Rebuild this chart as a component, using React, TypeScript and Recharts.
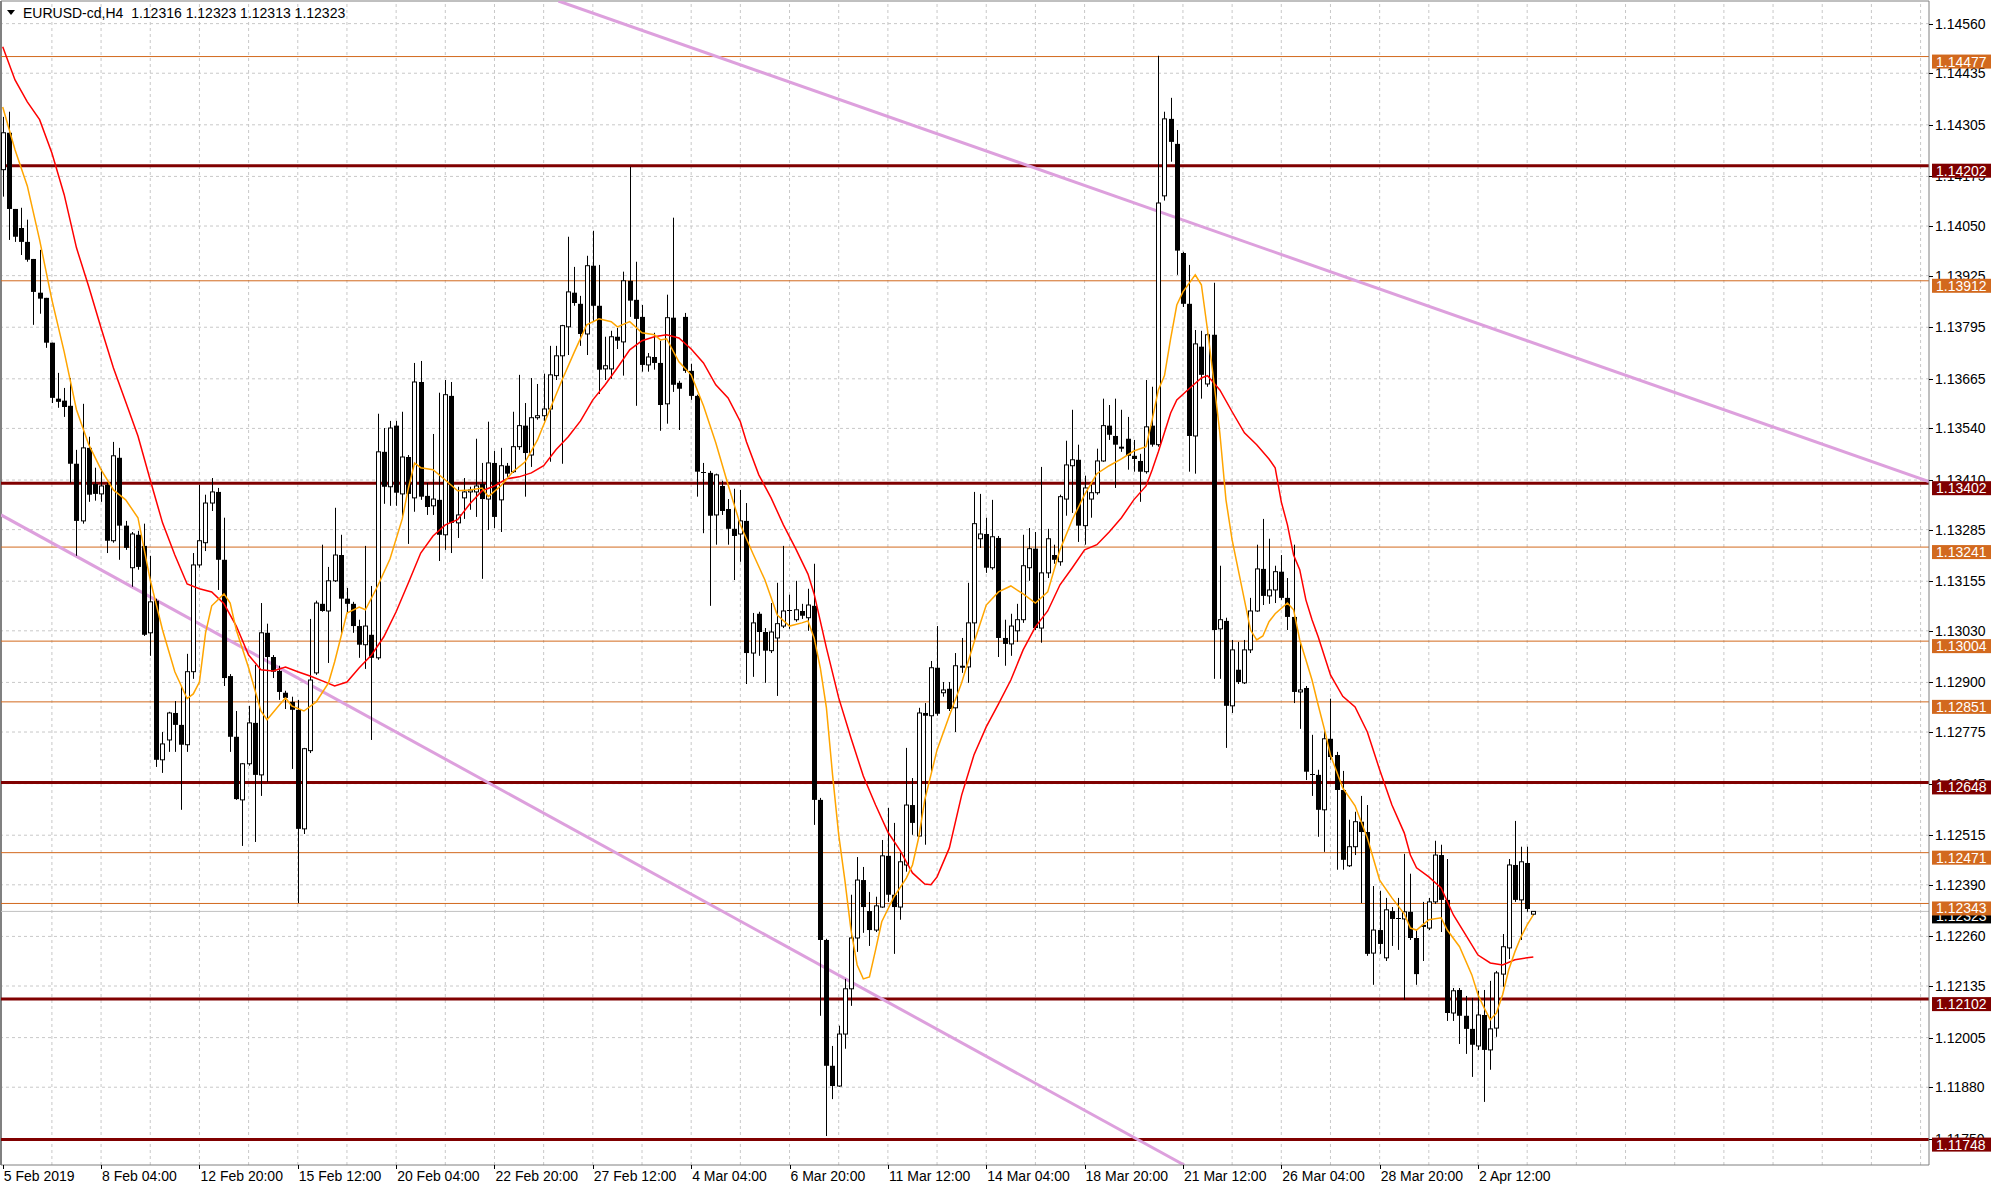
import { ComposedChart, Bar, Line, XAxis, YAxis, ReferenceLine } from "recharts";

const WIDTH = 2000;
const HEIGHT = 1191;
const AXIS_WIDTH = 71;
const AXIS_HEIGHT = 25;
const PLOT_RIGHT = WIDTH - AXIS_WIDTH;
const PLOT_BOTTOM = HEIGHT - 1 - AXIS_HEIGHT;
const FONT = "'Liberation Sans', Arial, sans-serif";

const title = "EURUSD-cd,H4  1.12316 1.12323 1.12313 1.12323";

// H4 bars, 5 Feb 2019 12:00 .. 3 Apr 2019
const opens = [
  1.14192, 1.14285, 1.14093, 1.14045, 1.1401, 1.13967, 1.13882, 1.13869, 1.13756, 1.13615,
  1.1361, 1.13597, 1.13451, 1.13307, 1.13491, 1.134, 1.13375, 1.13398, 1.13257, 1.13466,
  1.13295, 1.13189, 1.13272, 1.13244, 1.13025, 1.13106, 1.12705, 1.12755, 1.12823, 1.12793,
  1.12743, 1.12927, 1.13196, 1.13252, 1.13352, 1.1338, 1.13209, 1.12916, 1.12763, 1.12604,
  1.12695, 1.12798, 1.12667, 1.13025, 1.12964, 1.12929, 1.12874, 1.12851, 1.12831, 1.12531,
  1.12728, 1.12924, 1.13098, 1.1308, 1.13156, 1.13221, 1.13111, 1.13098, 1.13042, 1.12995,
  1.1302, 1.12962, 1.13481, 1.13393, 1.13547, 1.13375, 1.13468, 1.13365, 1.13657, 1.1337,
  1.13345, 1.1336, 1.13272, 1.13622, 1.13302, 1.13365, 1.1338, 1.1338, 1.134, 1.13362,
  1.13453, 1.1336, 1.13446, 1.13431, 1.13494, 1.13547, 1.13473, 1.13567, 1.13572, 1.13589,
  1.13673, 1.13723, 1.13796, 1.13882, 1.13854, 1.13778, 1.1395, 1.13849, 1.1369, 1.1369,
  1.13771, 1.13758, 1.13912, 1.13864, 1.13821, 1.137, 1.1372, 1.13705, 1.13602, 1.13819,
  1.13655, 1.13821, 1.13685, 1.13622, 1.13431, 1.13428, 1.13322, 1.13395, 1.13337, 1.13287,
  1.13274, 1.13307, 1.12974, 1.13073, 1.13027, 1.1298, 1.13012, 1.13042, 1.1308, 1.13058,
  1.1308, 1.13063, 1.13093, 1.12604, 1.12251, 1.11934, 1.11883, 1.12014, 1.12128, 1.12256,
  1.12402, 1.12324, 1.12276, 1.12334, 1.12463, 1.12365, 1.12334, 1.1244, 1.12591, 1.12513,
  1.12823, 1.12816, 1.12937, 1.12874, 1.12884, 1.12836, 1.12942, 1.12939, 1.1305, 1.13262,
  1.13274, 1.13189, 1.13264, 1.13012, 1.12997, 1.1303, 1.13058, 1.13189, 1.13237, 1.13037,
  1.13176, 1.13221, 1.13204, 1.13362, 1.13446, 1.13461, 1.13295, 1.13362, 1.13378, 1.13458,
  1.13547, 1.13521, 1.13494, 1.13514, 1.13471, 1.13458, 1.13431, 1.13547, 1.13499, 1.14126,
  1.1432, 1.14257, 1.13982, 1.13854, 1.13521, 1.13746, 1.13652, 1.13776, 1.13035, 1.13055,
  1.12841, 1.12932, 1.12899, 1.12982, 1.1308, 1.13186, 1.13118, 1.13133, 1.13179, 1.13113,
  1.13065, 1.12876, 1.12886, 1.12667, 1.12667, 1.12579, 1.12758, 1.12717, 1.12629, 1.12438,
  1.12486, 1.12549, 1.12523, 1.12218, 1.12276, 1.12206, 1.12324, 1.12307, 1.12304, 1.12322,
  1.12256, 1.12289, 1.12281, 1.12347, 1.12465, 1.12352, 1.12067, 1.12125, 1.1206, 1.12027,
  1.11984, 1.12062, 1.11974, 1.12029, 1.12165, 1.12231, 1.1244, 1.12352, 1.12445, 1.12316,
];

const highs = [
  1.14325, 1.14338, 1.14093, 1.14096, 1.14066, 1.13967, 1.1399, 1.13869, 1.13756, 1.1368,
  1.13642, 1.13667, 1.13486, 1.13602, 1.13519, 1.13441, 1.13438, 1.13403, 1.13506, 1.13491,
  1.13307, 1.13279, 1.13282, 1.133, 1.13219, 1.13111, 1.12775, 1.12826, 1.12853, 1.12891,
  1.12972, 1.13226, 1.13398, 1.13373, 1.13415, 1.1339, 1.13315, 1.12921, 1.12828, 1.12697,
  1.12841, 1.12944, 1.131, 1.13048, 1.12969, 1.12942, 1.12879, 1.12864, 1.12856, 1.12735,
  1.1306, 1.13106, 1.13247, 1.13191, 1.1334, 1.13272, 1.13138, 1.13103, 1.13058, 1.13244,
  1.13143, 1.13577, 1.13541, 1.13559, 1.13559, 1.13582, 1.13473, 1.13705, 1.1371, 1.13403,
  1.13526, 1.1363, 1.13662, 1.13657, 1.13393, 1.13415, 1.13393, 1.13514, 1.13453, 1.13557,
  1.13483, 1.13491, 1.13453, 1.13582, 1.13675, 1.13604, 1.13667, 1.13652, 1.13678, 1.13748,
  1.13748, 1.13801, 1.14023, 1.13947, 1.13874, 1.13975, 1.14038, 1.13952, 1.13771, 1.13786,
  1.13793, 1.13935, 1.14199, 1.1396, 1.13851, 1.1373, 1.13781, 1.13761, 1.13877, 1.14071,
  1.1366, 1.13831, 1.13703, 1.13625, 1.13453, 1.13433, 1.13426, 1.13408, 1.13362, 1.13388,
  1.13385, 1.13352, 1.13075, 1.13078, 1.13037, 1.131, 1.13151, 1.13244, 1.13121, 1.13156,
  1.13098, 1.13136, 1.13199, 1.12609, 1.12254, 1.11984, 1.12035, 1.12153, 1.12365, 1.1246,
  1.12435, 1.12372, 1.1236, 1.12503, 1.12584, 1.12546, 1.1247, 1.12735, 1.12659, 1.12836,
  1.12848, 1.12954, 1.13042, 1.12901, 1.12901, 1.12974, 1.13012, 1.13151, 1.1338, 1.13375,
  1.13315, 1.1336, 1.13269, 1.13058, 1.13073, 1.13098, 1.13272, 1.13289, 1.13279, 1.13443,
  1.13287, 1.13247, 1.13373, 1.13509, 1.13587, 1.13499, 1.13421, 1.13398, 1.13489, 1.13615,
  1.13599, 1.13615, 1.13587, 1.13569, 1.13511, 1.13476, 1.13662, 1.13645, 1.14479, 1.14338,
  1.14373, 1.14292, 1.13985, 1.13952, 1.13788, 1.13786, 1.13781, 1.13907, 1.13194, 1.13063,
  1.13007, 1.13002, 1.13007, 1.13113, 1.13247, 1.13312, 1.13262, 1.13194, 1.13221, 1.13163,
  1.13247, 1.13002, 1.12891, 1.12768, 1.1268, 1.12783, 1.12859, 1.12725, 1.12677, 1.12554,
  1.12574, 1.12614, 1.12591, 1.12387, 1.12375, 1.12357, 1.12334, 1.12357, 1.12468, 1.12418,
  1.12276, 1.12347, 1.12357, 1.12501, 1.12491, 1.12455, 1.1213, 1.1213, 1.1211, 1.12105,
  1.12123, 1.12125, 1.12148, 1.12173, 1.12266, 1.12455, 1.12551, 1.12486, 1.12486, 1.12323,
];

const lows = [
  1.14124, 1.14015, 1.1401, 1.13977, 1.1396, 1.13801, 1.13829, 1.13743, 1.13604, 1.13592,
  1.13569, 1.13403, 1.13219, 1.133, 1.13355, 1.13358, 1.13355, 1.13226, 1.13252, 1.13209,
  1.13234, 1.13141, 1.13184, 1.13017, 1.12967, 1.12687, 1.12672, 1.12725, 1.12725, 1.12579,
  1.12725, 1.12909, 1.13189, 1.13231, 1.13332, 1.13133, 1.12891, 1.12725, 1.12604, 1.12488,
  1.1269, 1.12498, 1.12614, 1.12649, 1.12911, 1.12856, 1.12833, 1.12682, 1.12344, 1.12518,
  1.12722, 1.12919, 1.13078, 1.12949, 1.13153, 1.13025, 1.13075, 1.13025, 1.12962, 1.12934,
  1.12755, 1.12957, 1.1335, 1.13345, 1.13345, 1.13315, 1.13249, 1.1333, 1.1336, 1.13322,
  1.13322, 1.13206, 1.13234, 1.13226, 1.13264, 1.13312, 1.13335, 1.13317, 1.13161, 1.13284,
  1.13289, 1.13279, 1.13418, 1.13428, 1.13486, 1.13368, 1.13443, 1.13562, 1.13559, 1.13456,
  1.13662, 1.13451, 1.13725, 1.13849, 1.13748, 1.13725, 1.13811, 1.13627, 1.13662, 1.13665,
  1.1374, 1.13673, 1.13821, 1.13597, 1.13683, 1.13683, 1.13688, 1.13534, 1.13552, 1.13632,
  1.13536, 1.1368, 1.13612, 1.13368, 1.13276, 1.13093, 1.13247, 1.13322, 1.13247, 1.13158,
  1.13204, 1.12896, 1.12914, 1.12967, 1.12899, 1.12974, 1.12866, 1.13037, 1.13035, 1.13053,
  1.1306, 1.1303, 1.12541, 1.1206, 1.11757, 1.1185, 1.11881, 1.11977, 1.12085, 1.12221,
  1.12269, 1.12236, 1.12271, 1.12332, 1.12347, 1.12216, 1.12302, 1.12423, 1.12516, 1.12511,
  1.12491, 1.12672, 1.12816, 1.12864, 1.12828, 1.12775, 1.12924, 1.12899, 1.13005, 1.13239,
  1.13176, 1.13184, 1.12964, 1.12942, 1.12967, 1.13002, 1.1305, 1.13156, 1.13032, 1.13,
  1.13163, 1.13199, 1.13194, 1.1332, 1.13327, 1.13254, 1.13247, 1.13315, 1.13373, 1.13456,
  1.13511, 1.1339, 1.13481, 1.13436, 1.13431, 1.13355, 1.13426, 1.13494, 1.13494, 1.14114,
  1.14212, 1.13927, 1.13846, 1.13431, 1.13426, 1.13615, 1.13645, 1.12909, 1.12909, 1.12735,
  1.12823, 1.12896, 1.12896, 1.12974, 1.13078, 1.13095, 1.13098, 1.131, 1.13108, 1.13032,
  1.12848, 1.12783, 1.12654, 1.12614, 1.12511, 1.12473, 1.12705, 1.12428, 1.12428, 1.12435,
  1.12465, 1.12344, 1.12211, 1.12138, 1.12216, 1.12198, 1.12236, 1.12226, 1.121, 1.12251,
  1.12138, 1.12198, 1.12276, 1.12342, 1.12271, 1.12047, 1.12047, 1.11989, 1.11964, 1.11906,
  1.11974, 1.11843, 1.11924, 1.12007, 1.12133, 1.12203, 1.12347, 1.12251, 1.12322, 1.12313,
];

const closes = [
  1.14285, 1.14093, 1.14023, 1.1401, 1.13965, 1.13884, 1.13867, 1.13756, 1.13617, 1.13607,
  1.13594, 1.13451, 1.13307, 1.13491, 1.13373, 1.13375, 1.13395, 1.13257, 1.13471, 1.13295,
  1.13239, 1.13274, 1.13191, 1.1302, 1.13103, 1.12705, 1.12745, 1.12823, 1.12793, 1.12743,
  1.12927, 1.13196, 1.13257, 1.13352, 1.1338, 1.13209, 1.12911, 1.12763, 1.12606, 1.12695,
  1.12798, 1.12667, 1.13025, 1.12964, 1.12927, 1.12876, 1.12861, 1.12831, 1.12531, 1.12733,
  1.12906, 1.131, 1.1308, 1.13156, 1.13221, 1.13111, 1.13098, 1.13042, 1.12995, 1.13042,
  1.12962, 1.13481, 1.13393, 1.13541, 1.13378, 1.13468, 1.13375, 1.13657, 1.13368, 1.13342,
  1.13362, 1.13272, 1.13625, 1.13302, 1.13322, 1.1338, 1.13385, 1.13395, 1.13362, 1.13453,
  1.13317, 1.13446, 1.13426, 1.13494, 1.13547, 1.13478, 1.13567, 1.13572, 1.13589, 1.13675,
  1.13723, 1.13799, 1.13884, 1.13856, 1.13778, 1.1395, 1.13849, 1.13688, 1.13698, 1.13771,
  1.13761, 1.13912, 1.13862, 1.13816, 1.137, 1.1372, 1.13705, 1.13599, 1.13819, 1.1365,
  1.1364, 1.13685, 1.13622, 1.13431, 1.13428, 1.1332, 1.13423, 1.13332, 1.13287, 1.13269,
  1.13307, 1.12974, 1.1305, 1.13027, 1.1298, 1.13027, 1.13048, 1.1308, 1.13083, 1.13083,
  1.13068, 1.13095, 1.12604, 1.12251, 1.11934, 1.11883, 1.12014, 1.12128, 1.12256, 1.12402,
  1.12334, 1.12276, 1.12337, 1.12463, 1.12365, 1.12334, 1.12448, 1.12591, 1.12546, 1.12823,
  1.12816, 1.12937, 1.12821, 1.12881, 1.12833, 1.12942, 1.12937, 1.1305, 1.133, 1.13274,
  1.13189, 1.13267, 1.13012, 1.12997, 1.13042, 1.13058, 1.13194, 1.13237, 1.13037, 1.13176,
  1.13262, 1.13209, 1.13368, 1.13448, 1.13461, 1.13295, 1.1339, 1.13378, 1.13458, 1.13547,
  1.13524, 1.13499, 1.13489, 1.13471, 1.13463, 1.13431, 1.13544, 1.13499, 1.14108, 1.1432,
  1.14262, 1.13988, 1.13854, 1.13521, 1.13753, 1.13675, 1.13776, 1.13032, 1.13058, 1.12841,
  1.12982, 1.12901, 1.12982, 1.1308, 1.13186, 1.13118, 1.13133, 1.13179, 1.13113, 1.13065,
  1.12876, 1.12881, 1.12675, 1.1267, 1.12579, 1.12758, 1.12712, 1.12629, 1.12453, 1.12486,
  1.12549, 1.12523, 1.12216, 1.12276, 1.12241, 1.12327, 1.12304, 1.12304, 1.12322, 1.12256,
  1.12165, 1.12284, 1.12347, 1.12465, 1.12352, 1.12067, 1.12123, 1.1206, 1.12027, 1.11987,
  1.12062, 1.11974, 1.12027, 1.12168, 1.12234, 1.1244, 1.12352, 1.12448, 1.12329, 1.12323,
];

// moving averages: [bar, price]
const fastMa: [number, number][] = [
  [0, 1.1435], [2, 1.14242], [4, 1.14151], [6, 1.14015], [8, 1.13864], [10, 1.13733], [12, 1.13587],
  [14, 1.13499], [16, 1.13436], [18, 1.13385], [20, 1.1336], [22, 1.13315], [24, 1.13158], [26, 1.13032],
  [28, 1.12927], [30, 1.12859], [31, 1.12871], [32, 1.12901], [33, 1.13025], [34, 1.13093], [36, 1.13123],
  [37, 1.131], [38, 1.13032], [40, 1.12937], [42, 1.12828], [43, 1.12806], [45, 1.12843], [46, 1.12861],
  [47, 1.12841], [49, 1.12828], [51, 1.12851], [53, 1.12899], [54, 1.12952], [56, 1.13075], [58, 1.1309],
  [59, 1.13083], [61, 1.13143], [63, 1.13211], [65, 1.13312], [66, 1.1339], [67, 1.13453], [68, 1.13441],
  [70, 1.13436], [72, 1.1341], [74, 1.13383], [76, 1.13385], [78, 1.1339], [79, 1.13368], [81, 1.13395],
  [83, 1.13431], [85, 1.13456], [87, 1.13511], [89, 1.13587], [91, 1.13662], [93, 1.13733], [95, 1.13801],
  [97, 1.13816], [99, 1.13809], [100, 1.13796], [102, 1.13809], [104, 1.13781], [106, 1.13776], [107, 1.13763],
  [108, 1.13766], [110, 1.13708], [112, 1.13675], [114, 1.13597], [116, 1.13504], [118, 1.13398], [120, 1.13297],
  [122, 1.13226], [124, 1.13158], [126, 1.1307], [128, 1.13042], [130, 1.1305], [131, 1.13055], [132, 1.13012],
  [133, 1.12937], [134, 1.12836], [135, 1.12667], [136, 1.12516], [137, 1.12402], [138, 1.12276], [139, 1.12188],
  [140, 1.12153], [141, 1.12158], [142, 1.12226], [143, 1.12297], [145, 1.1236], [147, 1.12407], [148, 1.1244],
  [149, 1.12508], [150, 1.12604], [152, 1.1273], [154, 1.12816], [156, 1.12899], [158, 1.13], [160, 1.13095],
  [162, 1.13128], [164, 1.13143], [166, 1.13123], [168, 1.131], [170, 1.13128], [172, 1.13234], [174, 1.1331],
  [176, 1.13373], [178, 1.13426], [180, 1.13446], [182, 1.13463], [184, 1.13483], [186, 1.13494], [187, 1.13562],
  [188, 1.13637], [189, 1.13673], [190, 1.13766], [191, 1.13851], [192, 1.13884], [194, 1.13927], [195, 1.13902],
  [196, 1.13788], [197, 1.13662], [198, 1.13529], [199, 1.1336], [200, 1.13259], [202, 1.13108], [203, 1.13032],
  [204, 1.13007], [205, 1.13017], [206, 1.13053], [207, 1.13073], [209, 1.131], [210, 1.13083], [211, 1.13007],
  [212, 1.12957], [213, 1.12906], [214, 1.12843], [215, 1.12783], [216, 1.12717], [218, 1.12634], [220, 1.12589],
  [222, 1.12508], [224, 1.12402], [226, 1.12357], [228, 1.12317], [229, 1.12281], [230, 1.12276], [232, 1.12302],
  [234, 1.12307], [235, 1.12276], [237, 1.12234], [239, 1.12163], [240, 1.12113], [241, 1.1208], [242, 1.1205],
  [243, 1.12067], [244, 1.12113], [245, 1.12176], [246, 1.12221], [247, 1.12259], [248, 1.12289], [249, 1.12314],
];

const slowMa: [number, number][] = [
  [0, 1.14502], [2, 1.14418], [4, 1.14363], [6, 1.14318], [8, 1.14234], [10, 1.14129], [12, 1.13995],
  [14, 1.13897], [16, 1.13793], [18, 1.13693], [20, 1.13607], [22, 1.13521], [24, 1.1341], [26, 1.13302],
  [28, 1.13221], [30, 1.13148], [32, 1.13136], [34, 1.13128], [36, 1.13098], [38, 1.13042], [40, 1.12969],
  [42, 1.12932], [44, 1.12929], [46, 1.12939], [48, 1.12927], [50, 1.12916], [52, 1.12904], [54, 1.12891],
  [56, 1.12901], [58, 1.12937], [60, 1.12969], [62, 1.13015], [64, 1.13078], [66, 1.13151], [68, 1.13226],
  [70, 1.13269], [72, 1.13297], [74, 1.1331], [76, 1.1335], [78, 1.13383], [80, 1.13395], [82, 1.13413],
  [84, 1.13418], [86, 1.13428], [88, 1.13446], [90, 1.13486], [92, 1.13519], [94, 1.13559], [96, 1.13612],
  [98, 1.1365], [100, 1.13693], [102, 1.13738], [104, 1.13761], [106, 1.13771], [108, 1.13776], [110, 1.13768],
  [112, 1.1374], [114, 1.13705], [116, 1.1365], [118, 1.13617], [120, 1.13557], [121, 1.13506], [123, 1.13423],
  [125, 1.13365], [127, 1.13297], [129, 1.13237], [131, 1.13173], [132, 1.13123], [134, 1.12987], [136, 1.12861],
  [138, 1.1276], [140, 1.12664], [142, 1.12591], [144, 1.12523], [146, 1.12476], [148, 1.1242], [150, 1.12392],
  [151, 1.1239], [152, 1.1241], [154, 1.12483], [156, 1.12616], [158, 1.12717], [160, 1.12788], [162, 1.12846],
  [164, 1.12906], [166, 1.12982], [168, 1.1304], [170, 1.1308], [172, 1.13146], [174, 1.13189], [176, 1.13234],
  [178, 1.13247], [180, 1.13279], [182, 1.13315], [184, 1.1336], [186, 1.13395], [187, 1.13436], [188, 1.13481],
  [190, 1.13579], [191, 1.13612], [193, 1.1364], [195, 1.13667], [196, 1.13673], [197, 1.13655], [198, 1.13637],
  [200, 1.13582], [202, 1.13529], [204, 1.13499], [206, 1.13463], [207, 1.13441], [208, 1.13355], [209, 1.13297],
  [210, 1.13221], [211, 1.13184], [212, 1.13108], [213, 1.13058], [214, 1.13015], [216, 1.12919], [218, 1.12865],
  [220, 1.12838], [222, 1.12775], [224, 1.1268], [226, 1.12591], [228, 1.12521], [229, 1.12465], [230, 1.12433],
  [232, 1.1241], [234, 1.12382], [236, 1.12314], [238, 1.12264], [240, 1.12213], [242, 1.12193], [244, 1.12188],
  [246, 1.12201], [248, 1.12206], [249, 1.12208],
];

const xTickBars = [0, 16, 32, 48, 64, 80, 96, 112, 128, 144, 160, 176, 192, 208, 224, 240];
const xTickLabels = [
  "5 Feb 2019", "8 Feb 04:00", "12 Feb 20:00", "15 Feb 12:00", "20 Feb 04:00", "22 Feb 20:00",
  "27 Feb 12:00", "4 Mar 04:00", "6 Mar 20:00", "11 Mar 12:00", "14 Mar 04:00", "18 Mar 20:00",
  "21 Mar 12:00", "26 Mar 04:00", "28 Mar 20:00", "2 Apr 12:00",
];
const gridBars = [
  8, 16, 24, 32, 40, 48, 56, 64, 72, 80, 88, 96, 104, 112, 120, 128, 136, 144, 152, 160,
  168, 176, 184, 192, 200, 208, 216, 224, 232, 240, 248, 256, 264, 272, 280, 288, 296, 304, 312,
];
const priceTicks = [
  1.1456, 1.14435, 1.14305, 1.14175, 1.1405, 1.13925, 1.13795, 1.13665, 1.1354, 1.1341, 1.13285, 1.13155,
  1.1303, 1.129, 1.12775, 1.12645, 1.12515, 1.1239, 1.1226, 1.12135, 1.12005, 1.1188, 1.1175,
];

const minorLevels = [1.14477, 1.13912, 1.13241, 1.13004, 1.12851, 1.12471, 1.12343];
const majorLevels = [1.14202, 1.13402, 1.12648, 1.12102, 1.11748];
const currentPrice = 1.12323;

const trendLines = [
  { from: [90.4, 1.14617], to: [313.37, 1.13406] },
  { from: [-0.28, 1.13322], to: [192.2, 1.11684] },
];

const X_DOMAIN: [number, number] = [-0.28, 313.37];
const Y_DOMAIN: [number, number] = [1.11684, 1.14617];

const MINOR_COLOR = "#D2691E";
const MAJOR_COLOR = "#800000";

const priceLabels = [
  { price: currentPrice, bg: "#000000" },
  ...minorLevels.map((price) => ({ price, bg: MINOR_COLOR })),
  ...majorLevels.map((price) => ({ price, bg: MAJOR_COLOR })),
];
const yTicks = [...priceTicks, ...priceLabels.map((d) => d.price)];

const fastByBar = new Map(fastMa);
const slowByBar = new Map(slowMa);

const rows = opens.map((o, i) => ({
  i,
  o,
  h: highs[i],
  l: lows[i],
  c: closes[i],
  range: [lows[i], highs[i]],
  fast: fastByBar.get(i) ?? null,
  slow: slowByBar.get(i) ?? null,
}));

function Candle(props: any) {
  const { x, y, width, height, payload } = props;
  if (!payload) return null;
  const { o, h, l, c } = payload;
  const top = Math.min(y, y + height);
  const bottom = Math.max(y, y + height);
  const k = h - l > 0 ? (bottom - top) / (h - l) : 0;
  const yOpen = top + (h - o) * k;
  const yClose = top + (h - c) * k;
  const bodyTop = Math.min(yOpen, yClose);
  const bodyBottom = Math.max(yOpen, yClose);
  const cx = Math.floor(x + width / 2);
  const bull = c >= o;

  let body;
  if (bodyBottom - bodyTop < 1.2) {
    const yy = Math.round(bodyTop) + 0.5;
    body = <line x1={cx - 2} x2={cx + 3} y1={yy} y2={yy} stroke="#000" strokeWidth={1} />;
  } else if (bull) {
    body = (
      <rect x={cx - 1.5} y={bodyTop} width={4} height={bodyBottom - bodyTop} fill="#fff" stroke="#000" strokeWidth={1} />
    );
  } else {
    body = <rect x={cx - 2} y={bodyTop} width={5} height={bodyBottom - bodyTop} fill="#000" />;
  }

  return (
    <g>
      <line x1={cx + 0.5} x2={cx + 0.5} y1={top} y2={bottom} stroke="#000" strokeWidth={1} />
      {body}
    </g>
  );
}

function PriceTick(props: any) {
  const { y, payload } = props;
  const value: number = payload.value;
  const label = priceLabels.find((d) => d.price === value);
  if (label) {
    return (
      <g>
        <rect x={PLOT_RIGHT + 3} y={y - 2} width={59} height={14} fill={label.bg} />
        <text x={PLOT_RIGHT + 7} y={y + 5} fill="#fff" fontSize={14} fontFamily={FONT} dominantBaseline="central">
          {value.toFixed(5)}
        </text>
      </g>
    );
  }
  const yy = Math.round(y) + 0.5;
  return (
    <g>
      <line x1={PLOT_RIGHT} x2={PLOT_RIGHT + 4} y1={yy} y2={yy} stroke="#000" />
      <text x={PLOT_RIGHT + 6} y={y} fill="#000" fontSize={14} fontFamily={FONT} dominantBaseline="central">
        {value.toFixed(5)}
      </text>
    </g>
  );
}

function DateTick(props: any) {
  const { x, payload } = props;
  const label = xTickLabels[xTickBars.indexOf(payload.value)];
  const xx = Math.round(x) + 0.5;
  return (
    <g>
      <line x1={xx} x2={xx} y1={PLOT_BOTTOM} y2={PLOT_BOTTOM + 4} stroke="#000" />
      <text x={x + 1} y={PLOT_BOTTOM + 11} fill="#000" fontSize={14} fontFamily={FONT} dominantBaseline="central">
        {label}
      </text>
    </g>
  );
}

export default function App() {
  return (
    <div style={{ position: "absolute", left: 0, top: 0, width: WIDTH, height: HEIGHT, background: "#fff", fontFamily: FONT }}>
      <ComposedChart width={WIDTH} height={HEIGHT} data={rows} margin={{ top: 1, right: 0, bottom: 1, left: 1 }}>
        <XAxis
          type="number"
          dataKey="i"
          domain={X_DOMAIN}
          allowDataOverflow
          ticks={xTickBars}
          interval={0}
          tick={DateTick}
          tickLine={false}
          axisLine={{ stroke: "#808080" }}
          height={AXIS_HEIGHT}
        />
        <YAxis
          orientation="right"
          type="number"
          domain={Y_DOMAIN}
          allowDataOverflow
          ticks={yTicks}
          interval={0}
          tick={PriceTick}
          tickLine={false}
          axisLine={{ stroke: "#808080" }}
          width={AXIS_WIDTH}
        />

        {gridBars.map((b) => (
          <ReferenceLine key={"gx" + b} x={b} stroke="#c8c8c8" strokeDasharray="3 3" ifOverflow="hidden" zIndex={-90} />
        ))}
        {priceTicks.map((p) => (
          <ReferenceLine key={"gy" + p} y={p} stroke="#c8c8c8" strokeDasharray="3 3" ifOverflow="hidden" zIndex={-90} />
        ))}
        <ReferenceLine x={X_DOMAIN[0]} stroke="#808080" strokeWidth={2} ifOverflow="visible" zIndex={-90} />
        <ReferenceLine y={Y_DOMAIN[1]} stroke="#808080" ifOverflow="visible" zIndex={-90} />

        <ReferenceLine y={currentPrice} stroke="#c0c0c0" ifOverflow="hidden" zIndex={-85} />
        {minorLevels.map((p) => (
          <ReferenceLine key={"mn" + p} y={p} stroke={MINOR_COLOR} strokeWidth={1} ifOverflow="hidden" zIndex={-80} />
        ))}
        {majorLevels.map((p) => (
          <ReferenceLine key={"mj" + p} y={p} stroke={MAJOR_COLOR} strokeWidth={3} ifOverflow="hidden" zIndex={-80} />
        ))}
        {trendLines.map((t, k) => (
          <ReferenceLine
            key={"tl" + k}
            segment={[
              { x: t.from[0], y: t.from[1] },
              { x: t.to[0], y: t.to[1] },
            ]}
            stroke="#DDA0DD"
            strokeWidth={3}
            ifOverflow="hidden"
            zIndex={-70}
          />
        ))}

        <Bar dataKey="range" barSize={5} shape={(p: any) => <Candle {...p} />} isAnimationActive={false} />
        <Line
          type="linear"
          dataKey="slow"
          stroke="#FF0000"
          strokeWidth={1.5}
          dot={false}
          activeDot={false}
          connectNulls
          isAnimationActive={false}
        />
        <Line
          type="linear"
          dataKey="fast"
          stroke="#FFA500"
          strokeWidth={1.5}
          dot={false}
          activeDot={false}
          connectNulls
          isAnimationActive={false}
        />
      </ComposedChart>

      <div style={{ position: "absolute", left: 0, top: 0, height: 26, display: "flex", alignItems: "center", pointerEvents: "none" }}>
        <svg width={23} height={26} style={{ display: "block" }}>
          <polygon points="7,10 15,10 11,15" fill="#000" />
        </svg>
        <span style={{ fontSize: 14, whiteSpace: "pre", color: "#000", lineHeight: "26px" }}>{title}</span>
      </div>
    </div>
  );
}
